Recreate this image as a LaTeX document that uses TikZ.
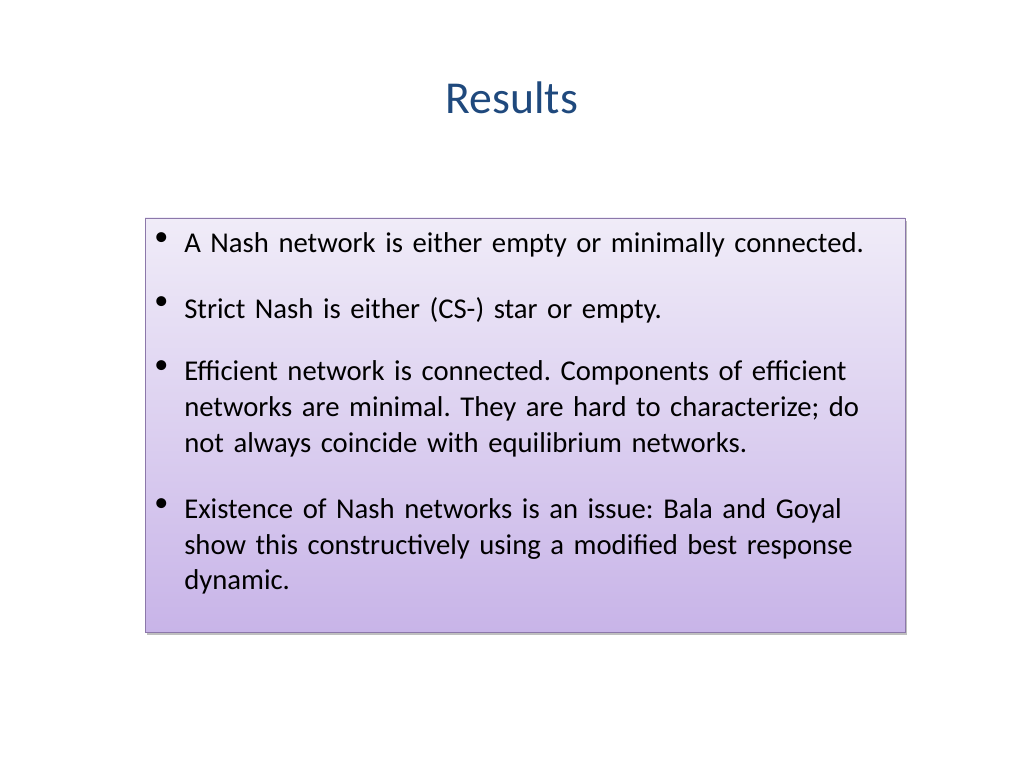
\documentclass[tikz,border=0pt]{standalone}
\usepackage{fontspec}
\setmainfont{Carlito}
\usetikzlibrary{shadows}
\definecolor{titleblue}{RGB}{31,73,125}
\definecolor{boxtop}{RGB}{240,236,248}
\definecolor{boxbot}{RGB}{200,180,232}
\definecolor{boxline}{RGB}{140,120,170}
\tikzset{
	dot/.style={anchor=north west, inner sep=0pt, font=\fontsize{20}{25.5}\selectfont},
	item/.style={anchor=north west, inner sep=0pt, text width=17.6cm, align=left,
		font=\fontsize{20.4}{25.5}\selectfont\frenchspacing},
}
\begin{document}
\begin{tikzpicture}
	\useasboundingbox (0,0) rectangle (25.6,19.2);

	\node[text=titleblue, font=\fontsize{32.5}{38}\selectfont] (title) at (12.8,16.75) {Results};

	\draw[boxline, top color=boxtop, bottom color=boxbot,
		drop shadow={opacity=0.5, shadow xshift=0.6mm, shadow yshift=-0.8mm}]
		(3.625,3.4) rectangle (22.625,13.75);

	\node[dot] (b1) at (3.85,13.4) {\textbullet};
	\node[item] (i1) at (4.6,13.4) {A Nash network is either empty or minimally connected.};
	\node[dot] (b2) at (3.85,11.78) {\textbullet};
	\node[item] (i2) at (4.6,11.78) {Strict Nash is either (CS-) star or empty.};
	\node[dot] (b3) at (3.85,10.18) {\textbullet};
	\node[item] (i3) at (4.6,10.18) {Efficient network is connected. Components of efficient networks are minimal. They are hard to characterize; do not always coincide with equilibrium networks.};
	\node[dot] (b4) at (3.85,6.75) {\textbullet};
	\node[item] (i4) at (4.6,6.75) {Existence of Nash networks is an issue: Bala and Goyal show this constructively using a modified best response dynamic.};
\end{tikzpicture}
\end{document}
